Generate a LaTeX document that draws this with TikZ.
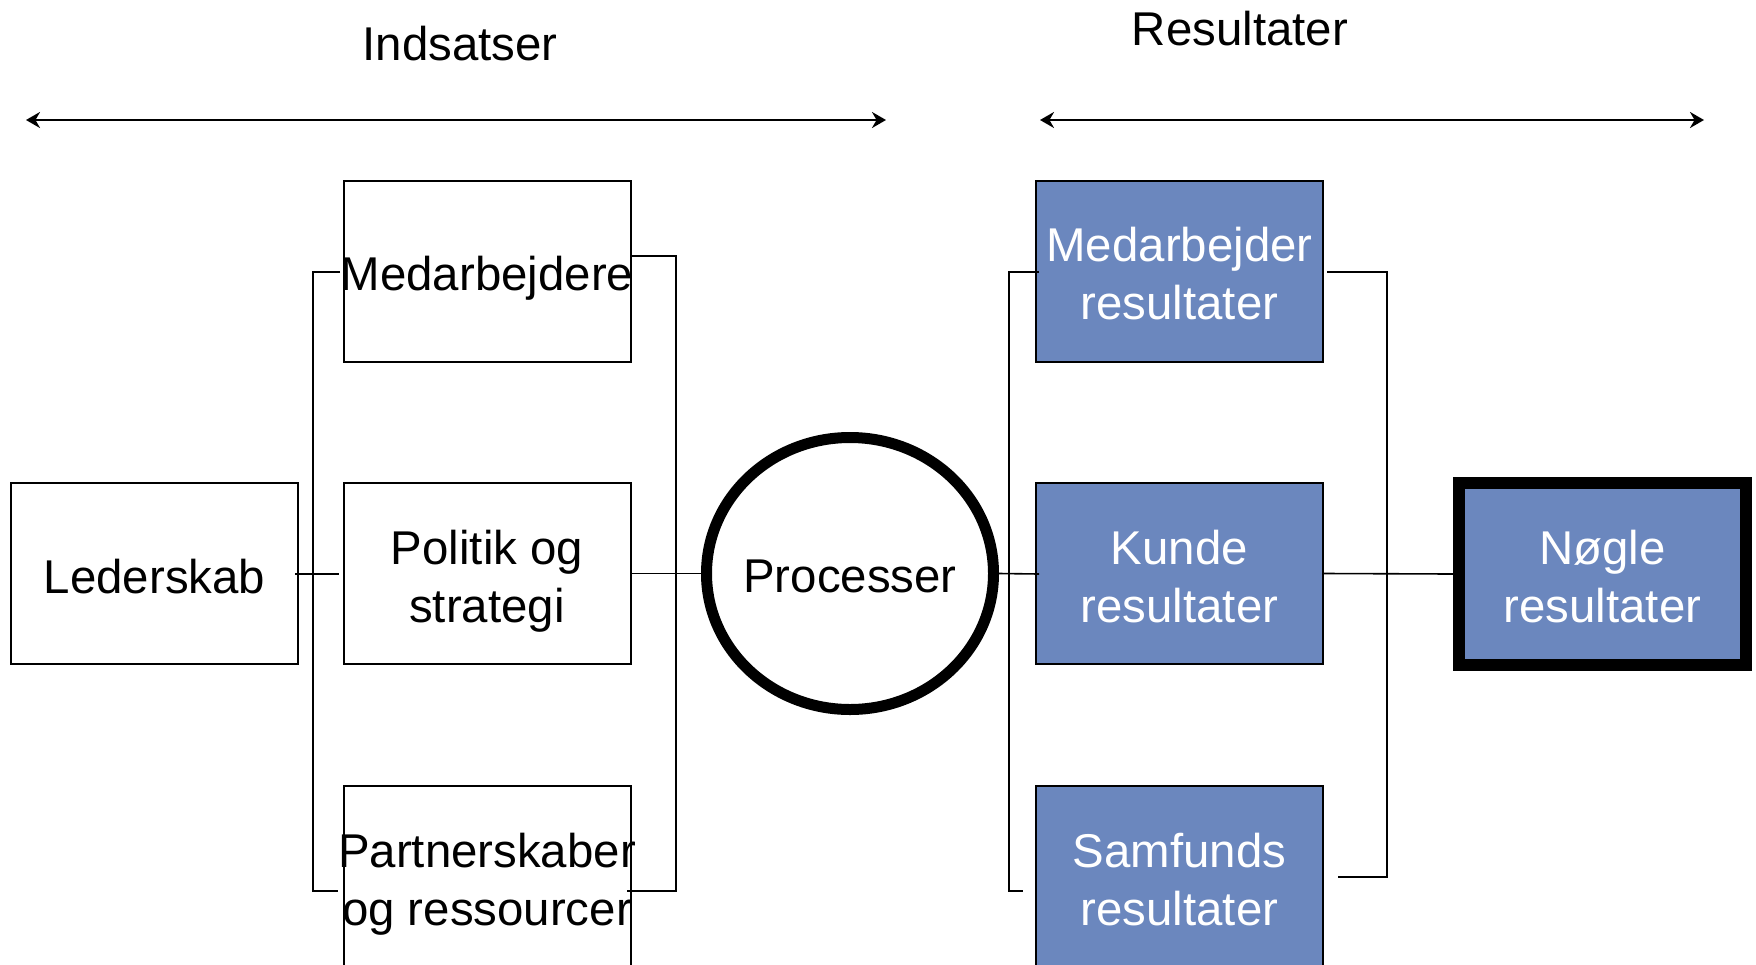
\documentclass[tikz,border=0pt]{standalone}
\usepackage{fontspec}
\setmainfont{Liberation Sans}
\usetikzlibrary{arrows.meta,calc,shapes.geometric}
\definecolor{boxblue}{RGB}{107,135,190}
\begin{document}
\begin{tikzpicture}[x=0.5pt,y=-0.5pt,
  box/.style={draw=black,line width=1pt,minimum width=143.5pt,minimum height=90.5pt,inner sep=0pt},
  bluebox/.style={box,fill=boxblue},
  title/.style={font=\fontsize{23.7}{29}\selectfont,inner sep=0pt},
  txt/.style={font=\fontsize{23.7}{29}\selectfont,align=center,inner sep=0pt,text depth=0pt,yshift=-1.25pt},
  wtxt/.style={txt,text=white},
  conn/.style={line width=0.8pt},
  span/.style={line width=1.3pt,{Stealth[length=7pt,width=8pt]}-{Stealth[length=7pt,width=8pt]}}]
\useasboundingbox (0,0) rectangle (1756,964);
\clip (0,0) rectangle (1756,964);

% titles and spans
\node[title,anchor=base] (tind) at (460,60) {Indsatser};
\node[title,anchor=base] (tres) at (1240,45) {Resultater};
\coordinate (a1) at (26,120);
\coordinate (a2) at (886,120);
\coordinate (b1) at (1040,120);
\coordinate (b2) at (1704,120);
\draw[span] (a1) -- (a2);
\draw[span] (b1) -- (b2);

% boxes
\node[box] (led) at (154.5,573.5) {};
\node[box] (med) at (487,271) {};
\node[box] (pol) at (487,573.5) {};
\node[box] (par) at (487,876.5) {};
\node[draw,ellipse,line width=5.5pt,minimum width=143.5pt,minimum height=136pt,inner sep=0pt] (proc) at (850,573.5) {};
\node[bluebox] (mr) at (1179.5,271) {};
\node[bluebox] (kun) at (1179.5,573.5) {};
\node[bluebox] (sam) at (1179.5,876.5) {};
\node[bluebox,line width=6pt,minimum height=91pt] (key) at (1602.5,574) {};

% texts
\node[txt] (tled) at (led) {Lederskab};
\node[txt] (tmed) at (med) {Medarbejdere};
\node[txt] (tpol) at (pol) {Politik og\\strategi};
\node[txt] (tpar) at (par) {Partnerskaber\\og ressourcer};
\node[txt] (tproc) at (proc) {Processer};
\node[wtxt] (tmr) at (mr) {Medarbejder\\resultater};
\node[wtxt] (tkun) at (kun) {Kunde\\resultater};
\node[wtxt] (tsam) at (sam) {Samfunds\\resultater};
\node[wtxt] (tkey) at (key) {Nøgle\\resultater};

% connectors left part
\coordinate (lbT) at (313,272);
\coordinate (lbB) at (313,891);
\coordinate (lbTe) at (340,272);
\coordinate (lbBe) at (338,891);
\draw[conn] (lbTe) -- (lbT) -- (lbB) -- (lbBe);
\coordinate (ledE) at (295,574);
\coordinate (polW) at (339,574);
\draw[conn] (ledE) -- (polW);

\coordinate (rbT) at (676,256);
\coordinate (rbB) at (676,891);
\coordinate (rbBe) at (627,891);
\draw[conn] (med.east |- rbT) -- (rbT) -- (rbB) -- (rbBe);
\draw[conn] (pol.east) -- (proc.west);

% connectors right part
\coordinate (kunW) at (1039,574);
\draw[conn] (proc.east) -- (kunW);
\coordinate (qT) at (1009,272);
\coordinate (qB) at (1009,891);
\coordinate (qTe) at (1039,272);
\coordinate (qBe) at (1023,891);
\draw[conn] (qTe) -- (qT) -- (qB) -- (qBe);
\coordinate (sT) at (1387,272);
\coordinate (sB) at (1387,877);
\coordinate (sTe) at (1327,272);
\coordinate (sBe) at (1338,877);
\draw[conn] (sTe) -- (sT) -- (sB) -- (sBe);
\draw[conn] (kun.east) -- (key.west);
\end{tikzpicture}
\end{document}
